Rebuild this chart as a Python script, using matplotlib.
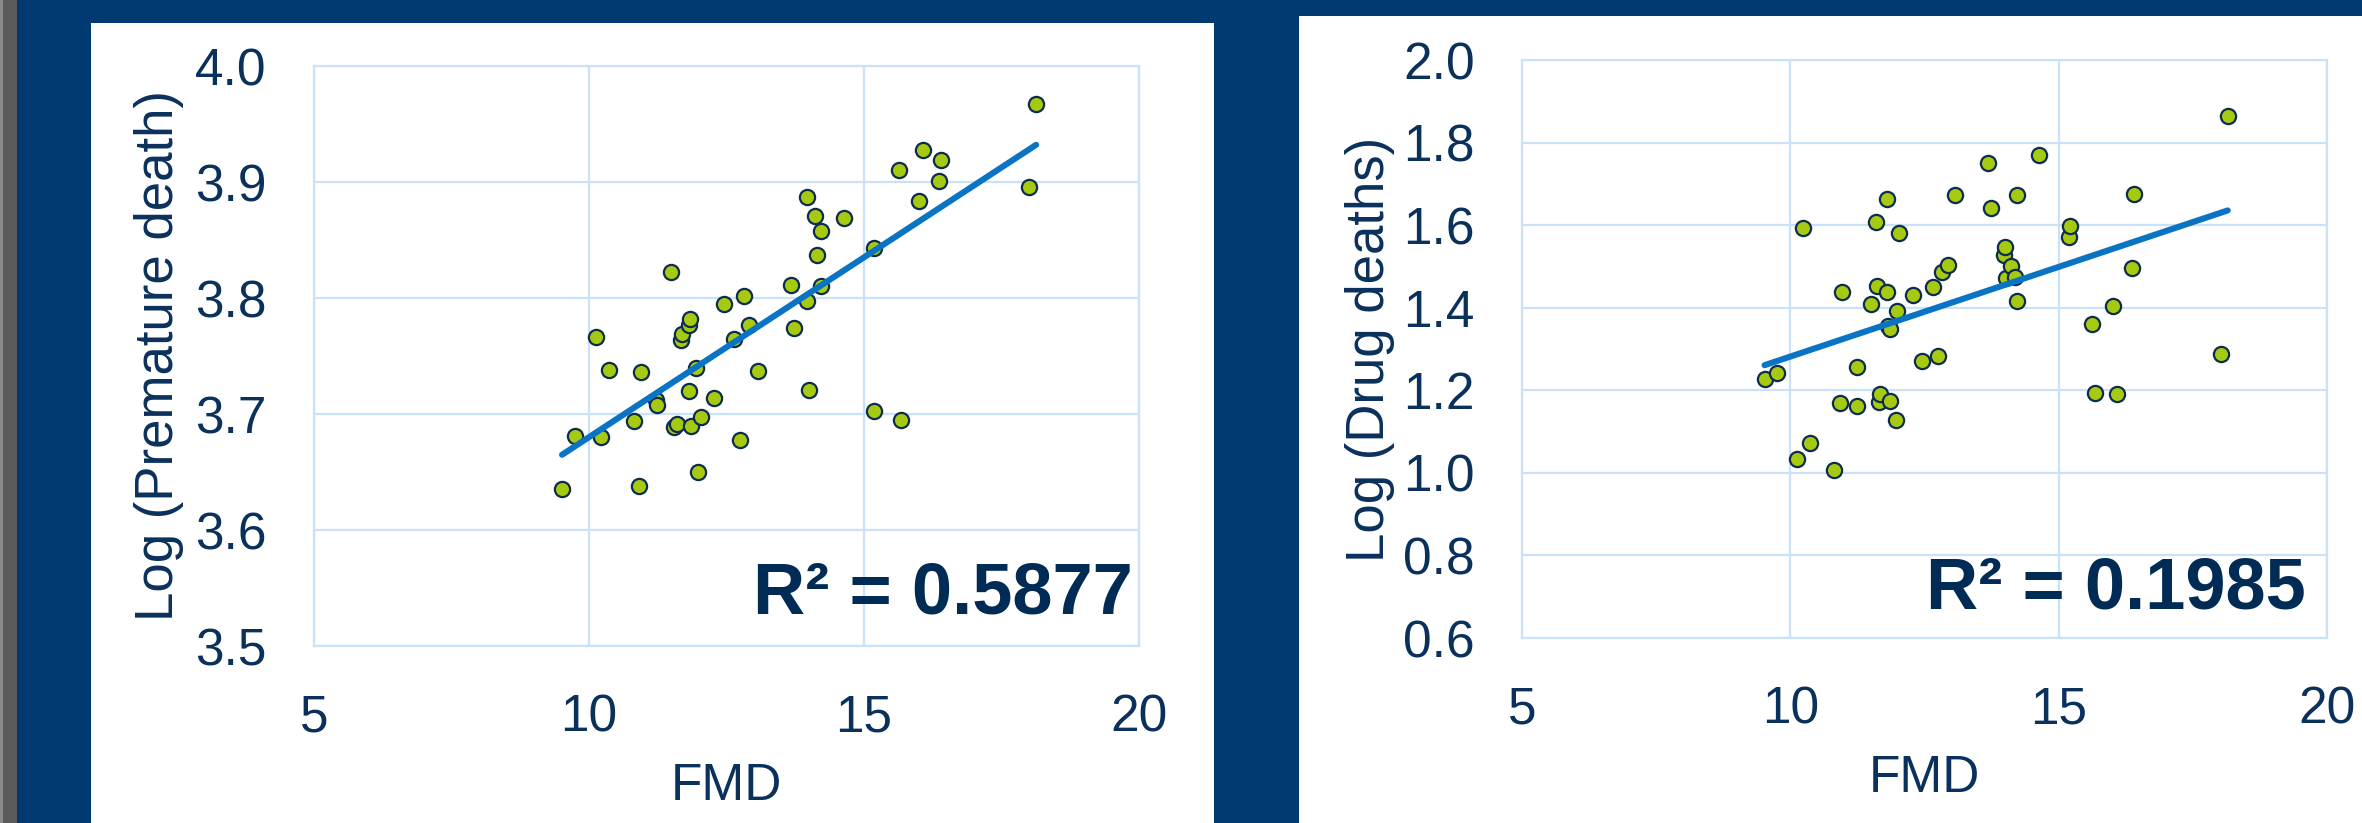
# -*- coding: utf-8 -*-
"""
FMD vs log(premature death) / log(drug deaths) scatter + linear trend
"""
import numpy as np
import matplotlib
matplotlib.use("Agg")
import matplotlib.pyplot as plt
from matplotlib.patches import Rectangle

plt.rcParams['font.family'] = ['Liberation Sans', 'DejaVu Sans']

# 1. data
fmd_premature = [9.51, 9.75, 10.13, 10.22, 10.36, 10.81, 10.90, 10.95, 11.22, 11.24,
                 11.49, 11.55, 11.60, 11.67, 11.69, 11.81, 11.83, 11.82, 11.85, 11.95,
                 11.98, 12.04, 12.27, 12.45, 12.64, 12.75, 12.82, 12.91, 13.07, 13.68,
                 13.72, 13.96, 13.97, 14.00, 14.10, 14.15, 14.22, 14.22, 14.63, 15.18,
                 15.19, 15.63, 15.67, 16.00, 16.08, 16.36, 16.40, 18.00, 18.13]
log_premature = [3.635, 3.681, 3.766, 3.680, 3.738, 3.694, 3.638, 3.736, 3.712, 3.708,
                 3.822, 3.689, 3.691, 3.764, 3.769, 3.777, 3.782, 3.720, 3.690, 3.740,
                 3.650, 3.697, 3.714, 3.795, 3.765, 3.678, 3.802, 3.777, 3.737, 3.811,
                 3.774, 3.797, 3.887, 3.721, 3.871, 3.837, 3.858, 3.810, 3.869, 3.843,
                 3.703, 3.910, 3.695, 3.884, 3.928, 3.901, 3.919, 3.896, 3.967]

fmd_drug = [9.52, 9.75, 10.12, 10.24, 10.37, 10.81, 10.92, 10.96, 11.24, 11.24,
            11.50, 11.60, 11.61, 11.66, 11.68, 11.80, 11.81, 11.82, 11.85, 11.85,
            11.96, 11.99, 12.03, 12.28, 12.46, 12.66, 12.75, 12.83, 12.94, 13.07,
            13.69, 13.73, 13.99, 14.00, 14.01, 14.11, 14.18, 14.22, 14.23, 14.63,
            15.19, 15.21, 15.63, 15.68, 16.01, 16.09, 16.37, 16.41, 18.02, 18.15]
log_drug = [1.227, 1.243, 1.034, 1.594, 1.072, 1.008, 1.170, 1.439, 1.257, 1.163,
            1.410, 1.607, 1.453, 1.171, 1.190, 1.664, 1.439, 1.356, 1.348, 1.173,
            1.127, 1.393, 1.582, 1.431, 1.271, 1.450, 1.284, 1.487, 1.503, 1.674,
            1.751, 1.642, 1.528, 1.548, 1.471, 1.500, 1.474, 1.417, 1.673, 1.770,
            1.572, 1.598, 1.360, 1.193, 1.405, 1.190, 1.495, 1.676, 1.289, 1.865]

x_ticks = [5, 10, 15, 20]
y_ticks_premature = [3.5, 3.6, 3.7, 3.8, 3.9, 4.0]
y_ticks_drug = [0.6, 0.8, 1.0, 1.2, 1.4, 1.6, 1.8, 2.0]

r2_premature = "R² = 0.5877"
r2_drug = "R² = 0.1985"

# 2. colours
NAVY = '#003A70'
TEXT = '#0A305C'
R2_TEXT = '#002B54'
GRID = '#C9E2F8'
DOT = '#A6CA12'
DOT_EDGE = '#0E2D4E'
TREND = '#0A74C4'

W, H = 2362, 823
fig = plt.figure(figsize=(W / 100, H / 100), dpi=100, facecolor=NAVY)


def px_rect(x0, y0, x1, y1, color):
    # rectangle in pixel coords (y from top), drawn behind the axes
    fig.patches.append(Rectangle((x0 / W, 1 - y1 / H), (x1 - x0) / W, (y1 - y0) / H,
                                 transform=fig.transFigure, facecolor=color,
                                 edgecolor='none', zorder=-10))


px_rect(0, 0, 17, H, '#5A5A5A')
px_rect(0, 0, 3, H, '#8A8A8A')
px_rect(91, 23, 1214, H, 'white')
px_rect(1299, 16, W, H, 'white')


def px_axes(x0, y0, x1, y1):
    return fig.add_axes([x0 / W, 1 - y1 / H, (x1 - x0) / W, (y1 - y0) / H])


def draw_panel(ax, x, y, yticks, ylabel, r2, r2_x, r2_y):
    ax.set_facecolor('white')
    ax.scatter(x, y, s=120, color=DOT, edgecolors=DOT_EDGE, linewidths=1.6, zorder=3)

    # linear trend from the data
    k, b = np.polyfit(x, y, 1)
    xs = np.array([min(x), max(x)])
    ax.plot(xs, k * xs + b, color=TREND, lw=4.4, solid_capstyle='round', zorder=4)

    ax.set_xlim(5, 20)
    ax.set_ylim(yticks[0], yticks[-1])
    ax.set_xticks(x_ticks)
    ax.set_yticks(yticks)
    ax.set_yticklabels(['%.1f' % t for t in yticks])
    ax.grid(True, color=GRID, lw=1.6, zorder=0)
    ax.set_axisbelow(True)
    for s in ax.spines.values():
        s.set_color(GRID)
        s.set_linewidth(1.6)
    ax.tick_params(length=0, labelsize=37, labelcolor=TEXT)
    ax.tick_params(axis='y', pad=34)
    ax.tick_params(axis='x', pad=34)

    ax.set_xlabel('FMD', fontsize=37, color=TEXT, labelpad=14)
    ax.set_ylabel(ylabel, fontsize=38, color=TEXT)
    ax.yaxis.set_label_coords(-0.158, 0.5)

    ax.text(r2_x, r2_y, r2, transform=ax.transAxes, ha='right', va='baseline',
            fontsize=52, fontweight='bold', color=R2_TEXT, zorder=5)


# 3. left: premature death
ax1 = px_axes(314, 66, 1139, 646)
draw_panel(ax1, fmd_premature, log_premature, y_ticks_premature,
           'Log (Premature death)', r2_premature, 0.993, 0.056)

# 4. right: drug deaths
ax2 = px_axes(1522, 60, 2327, 638)
draw_panel(ax2, fmd_drug, log_drug, y_ticks_drug,
           'Log (Drug deaths)', r2_drug, 0.974, 0.051)

fig.savefig('out.png', dpi=100, facecolor=NAVY)
